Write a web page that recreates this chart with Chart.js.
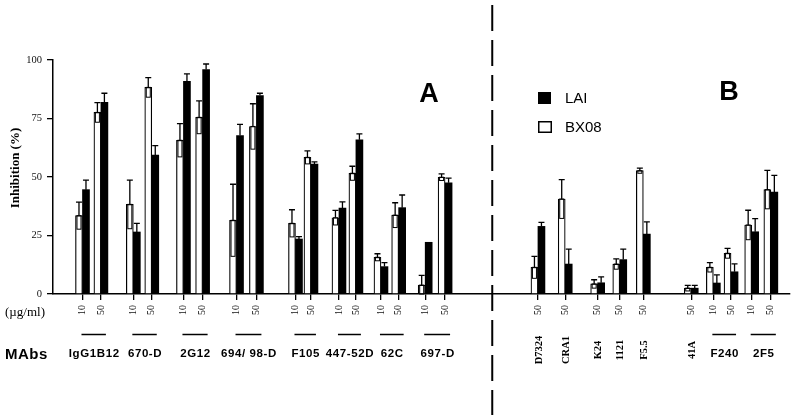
<!DOCTYPE html>
<html>
<head>
<meta charset="utf-8">
<script src="https://cdn.jsdelivr.net/npm/chart.js@4.4.1/dist/chart.umd.min.js"></script>
<style>
    html, body { margin: 0; padding: 0; background: #fff; }
    #wrap { width: 796px; height: 415px; }
</style>
</head>
<body>
<div id="wrap"><canvas id="inhibitionChart" width="796" height="415"></canvas></div>
<script>
// x position of each bar pair along the axis (0..100)
const positions = [4.0, 6.5, 10.9, 13.4, 17.7, 20.3, 24.9, 27.6, 32.9, 35.0, 38.8, 41.1, 44.5, 46.9, 50.5, 53.2,
    65.8, 69.5, 73.9, 76.9, 80.1, 86.6, 89.6, 92.0, 94.8, 97.4];

const concLabels = ['10', '50', '10', '50', '10', '50', '10', '50', '10', '50', '10', '50', '10', '50', '10', '50',
    '50', '50', '50', '50', '50', '50', '10', '50', '10', '50'];

const groupNames = ['IgG1B12', '670-D', '2G12', '694/ 98-D', 'F105', '447-52D', '62C', '697-D',
    'D7324', 'CRA1', 'K24', '1121', 'F5.5', '41A', 'F240', '2F5'];

const groupOf = [0, 0, 1, 1, 2, 2, 3, 3, 4, 4, 5, 5, 6, 6, 7, 7, 8, 9, 10, 11, 12, 13, 14, 14, 15, 15];

const bx08 = [33.5, 77.6, 38.3, 88.3, 65.7, 75.5, 31.5, 71.6, 30.2, 58.4, 32.6, 51.6, 15.7, 33.7, 3.8, 49.9,
    11.4, 40.6, 4.3, 12.8, 52.7, 2.5, 11.4, 17.4, 29.5, 44.6];
const bx08Err = [5.8, 4.2, 10.4, 4.2, 7.1, 7.0, 15.4, 9.7, 5.8, 2.8, 3.1, 3.0, 1.5, 5.3, 4.2, 1.4,
    4.7, 8.3, 1.8, 2.2, 1.1, 1.2, 2.0, 2.1, 6.3, 8.2];

const lai = [44.6, 81.9, 26.5, 59.4, 90.9, 95.9, 67.7, 84.8, 23.5, 55.5, 36.7, 65.9, 11.7, 36.9, 22.1, 47.5,
    28.9, 12.8, 4.8, 14.7, 25.6, 2.5, 4.7, 9.5, 26.6, 43.6];
const laiErr = [4.1, 3.9, 3.7, 4.0, 3.2, 2.4, 4.8, 1.0, 1.0, 1.0, 2.7, 2.5, 1.7, 5.4, 0, 2.0,
    1.7, 6.4, 2.5, 4.5, 5.2, 1.2, 3.5, 3.4, 5.6, 7.1];

const yTicks = [0, 25, 50, 75, 100];

const panelSplit = 59.6;

const SERIF = '"Liberation Serif", "Times New Roman", serif';
const SANS = '"Liberation Sans", Arial, sans-serif';

// whiskers on top of the bars, and the boxed lower half on the open bars
const errorBars = {
    id: 'errorBars',
    afterDatasetsDraw(chart) {
        const ctx = chart.ctx;
        const yScale = chart.scales.y;

        chart.data.datasets.forEach((ds, di) => {
            const meta = chart.getDatasetMeta(di);

            meta.data.forEach((bar, i) => {
                const err = ds.errors[i];
                if (!err) return;

                const v = ds.data[i].y;
                const vy = yScale.getPixelForValue(v);
                const top = yScale.getPixelForValue(v + err);

                ctx.save();
                ctx.strokeStyle = '#000';
                ctx.lineWidth = 1.3;
                ctx.beginPath();
                ctx.moveTo(bar.x, vy);
                ctx.lineTo(bar.x, top);
                ctx.moveTo(bar.x - 3, top);
                ctx.lineTo(bar.x + 3, top);
                ctx.stroke();

                if (ds.innerBox) {
                    const low = yScale.getPixelForValue(Math.max(v - err, 0));
                    ctx.lineWidth = 1;
                    ctx.strokeRect(bar.x - bar.width / 2 + 1.5, vy, bar.width - 3, low - vy);
                }
                ctx.restore();
            });
        });
    }
};

// axis title, group names, panel letters, legend and the dashed divider
const annotations = {
    id: 'annotations',
    afterDraw(chart) {
        const ctx = chart.ctx;
        const xScale = chart.scales.x;

        ctx.save();
        ctx.fillStyle = '#000';
        ctx.strokeStyle = '#000';

        // y title
        ctx.save();
        ctx.translate(16, 168);
        ctx.rotate(-Math.PI / 2);
        ctx.font = 'bold 13px ' + SERIF;
        ctx.textAlign = 'center';
        ctx.textBaseline = 'middle';
        ctx.fillText('Inhibition (%)', 0, 0);
        ctx.restore();

        ctx.font = '13px ' + SERIF;
        ctx.textAlign = 'left';
        ctx.textBaseline = 'middle';
        ctx.fillText('(\u00b5g/ml)', 5, 313);

        ctx.font = 'bold 15px ' + SANS;
        ctx.letterSpacing = '0.5px';
        ctx.fillText('MAbs', 5, 355);
        ctx.letterSpacing = '0px';

        // group labels
        groupNames.forEach((name, g) => {
            const idx = groupOf.map((gg, i) => gg === g ? i : -1).filter(i => i >= 0);
            const x1 = xScale.getPixelForValue(positions[idx[0]]);
            const x2 = xScale.getPixelForValue(positions[idx[idx.length - 1]]);

            if (idx.length > 1) {
                ctx.lineWidth = 1.5;
                ctx.beginPath();
                ctx.moveTo(x1 - 1, 334.5);
                ctx.lineTo(x2 + 5, 334.5);
                ctx.stroke();

                ctx.font = 'bold 11.5px ' + SANS;
                ctx.letterSpacing = '0.6px';
                ctx.textAlign = 'center';
                ctx.textBaseline = 'middle';
                ctx.fillText(name, (x1 + x2) / 2 + 2.5, 354);
                ctx.letterSpacing = '0px';
            } else {
                ctx.save();
                ctx.translate(x1 + 1, 350);
                ctx.rotate(-Math.PI / 2);
                ctx.font = 'bold 10.5px ' + SERIF;
                ctx.textAlign = 'center';
                ctx.textBaseline = 'middle';
                ctx.fillText(name, 0, 0);
                ctx.restore();
            }
        });

        // panel letters
        ctx.font = 'bold 27px ' + SANS;
        ctx.textAlign = 'center';
        ctx.textBaseline = 'alphabetic';
        ctx.fillText('A', 429, 102);
        ctx.fillText('B', 729, 100);

        // legend
        ctx.fillRect(538, 92, 13, 12);
        ctx.lineWidth = 1.5;
        ctx.strokeRect(538.75, 121.75, 12.5, 10.5);
        ctx.font = '15px ' + SANS;
        ctx.textAlign = 'left';
        ctx.textBaseline = 'middle';
        ctx.fillText('LAI', 565, 99);
        ctx.fillText('BX08', 565, 128);

        // dashed divider between panels
        const xs = xScale.getPixelForValue(panelSplit);
        ctx.lineWidth = 2;
        ctx.setLineDash([26, 9]);
        ctx.beginPath();
        ctx.moveTo(xs, 5);
        ctx.lineTo(xs, chart.height);
        ctx.stroke();

        ctx.restore();
    }
};

document.addEventListener(
    'DOMContentLoaded',
    () => {

        const canvas = document.getElementById('inhibitionChart');

        new Chart(
            canvas,
            {
                type: 'bar',

                data: {
                    datasets: [
                        {
                            label: 'BX08',
                            data: positions.map((x, i) => ({ x: x, y: bx08[i] })),
                            errors: bx08Err,
                            innerBox: true,
                            backgroundColor: '#fff',
                            borderColor: '#000',
                            borderWidth: { top: 1.2, left: 1.2, right: 1.2, bottom: 0 },
                            borderSkipped: false,
                            barThickness: 7
                        },
                        {
                            label: 'LAI',
                            data: positions.map((x, i) => ({ x: x, y: lai[i] })),
                            errors: laiErr,
                            innerBox: false,
                            backgroundColor: '#000',
                            borderColor: '#000',
                            borderWidth: 0,
                            barThickness: 7
                        }
                    ]
                },

                options: {
                    responsive: false,
                    animation: false,
                    layout: {
                        padding: { top: 60, right: 6, bottom: 0, left: 0 }
                    },
                    plugins: {
                        legend: { display: false },
                        tooltip: { enabled: false }
                    },
                    scales: {
                        x: {
                            type: 'linear',
                            min: 0,
                            max: 100,
                            offset: false,
                            afterFit: scale => { scale.height = 121; },
                            afterBuildTicks: scale => {
                                scale.ticks = positions.map(v => ({ value: v }));
                            },
                            border: { color: '#000', width: 1.5 },
                            grid: {
                                offset: false,
                                drawOnChartArea: false,
                                drawTicks: true,
                                tickLength: 6,
                                color: '#000',
                                lineWidth: 1.3
                            },
                            ticks: {
                                autoSkip: false,
                                minRotation: 90,
                                maxRotation: 90,
                                padding: 5,
                                color: '#111',
                                font: { family: SERIF, size: 10 },
                                callback: (value, index) => concLabels[index]
                            }
                        },
                        y: {
                            min: 0,
                            max: 100,
                            afterFit: scale => { scale.width = 53; },
                            afterBuildTicks: scale => {
                                scale.ticks = yTicks.map(v => ({ value: v }));
                            },
                            border: { color: '#000', width: 1.5 },
                            grid: {
                                drawOnChartArea: false,
                                drawTicks: true,
                                tickLength: 6,
                                color: '#000',
                                lineWidth: 1.3
                            },
                            ticks: {
                                padding: 5,
                                color: '#111',
                                font: { family: SERIF, size: 10.5 }
                            }
                        }
                    }
                },

                plugins: [errorBars, annotations]
            }
        );
    }
);
</script>
</body>
</html>
